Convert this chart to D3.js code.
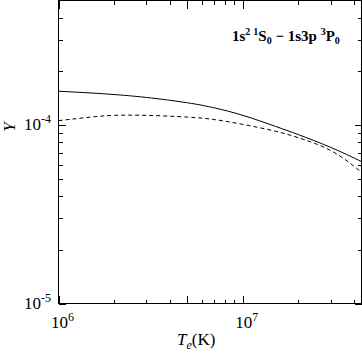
<!DOCTYPE html>
<html>
<head>
<meta charset="utf-8">
<script src="https://cdn.jsdelivr.net/npm/d3@7/dist/d3.min.js"></script>
<style>
  html, body { margin: 0; padding: 0; background: #fff; }
  svg { display: block; font-family: "Liberation Serif", "Times New Roman", serif; }
</style>
</head>
<body>
<div id="chart"></div>
<script>
"use strict";

// electron temperature (K) and effective collision strengths
const temps = [1e6, 1.5e6, 2e6, 3e6, 5e6, 7e6, 1e7, 1.5e7, 2e7, 3e7, 4.4e7];
const upsSolid = [1.55e-4, 1.515e-4, 1.485e-4, 1.43e-4, 1.335e-4, 1.25e-4, 1.135e-4, 9.85e-5, 8.85e-5, 7.5e-5, 6.25e-5];
const upsDashed = [1.06e-4, 1.11e-4, 1.135e-4, 1.135e-4, 1.11e-4, 1.075e-4, 1.01e-4, 9.25e-5, 8.5e-5, 7.2e-5, 5.45e-5];

const xDomain = [1e6, 4.4e7];
const yDomain = [1e-5, 5e-4];
const xMajorTicks = [1e6, 5e6, 1e7];
const xMinorTicks = [2e6, 3e6, 4e6, 6e6, 7e6, 8e6, 9e6, 2e7, 3e7, 4e7];
const yMajorTicks = [1e-5, 1e-4];
const yMinorTicks = [2e-5, 3e-5, 4e-5, 5e-5, 6e-5, 7e-5, 8e-5, 9e-5, 2e-4, 3e-4, 4e-4];
const xTickLabels = [{ value: 1e6, exp: "6" }, { value: 1e7, exp: "7" }];
const yTickLabels = [{ value: 1e-5, exp: "-5" }, { value: 1e-4, exp: "-4" }];

const width = 362, height = 353;
const plot = { left: 58.5, right: 361.5, top: 0.5, bottom: 303.5 };

const svg = d3.select("#chart").append("svg").attr("width", width).attr("height", height);

const x = d3.scaleLog().domain(xDomain).range([plot.left, plot.right]);
const y = d3.scaleLog().domain(yDomain).range([plot.bottom, plot.top]);

function tickAxis(axisFn, scale, values, size) {
  return axisFn(scale).tickValues(values).tickSize(size).tickFormat("");
}

const axes = svg.append("g").attr("shape-rendering", "crispEdges");
const pw = plot.right - plot.left, ph = plot.bottom - plot.top;

// inward ticks on all four sides
axes.append("g").attr("transform", `translate(0,${plot.bottom})`).call(tickAxis(d3.axisBottom, x, xMajorTicks, -8));
axes.append("g").attr("transform", `translate(0,${plot.bottom})`).call(tickAxis(d3.axisBottom, x, xMinorTicks, -4));
axes.append("g").attr("transform", `translate(0,${plot.top})`).call(tickAxis(d3.axisTop, x, xMajorTicks, -8));
axes.append("g").attr("transform", `translate(0,${plot.top})`).call(tickAxis(d3.axisTop, x, xMinorTicks, -4));
axes.append("g").attr("transform", `translate(${plot.left},0)`).call(tickAxis(d3.axisLeft, y, yMajorTicks, -7));
axes.append("g").attr("transform", `translate(${plot.left},0)`).call(tickAxis(d3.axisLeft, y, yMinorTicks, -4));
axes.append("g").attr("transform", `translate(${plot.right},0)`).call(tickAxis(d3.axisRight, y, yMajorTicks, -7));
axes.append("g").attr("transform", `translate(${plot.right},0)`).call(tickAxis(d3.axisRight, y, yMinorTicks, -4));
axes.selectAll(".domain").remove();
axes.selectAll("line").attr("stroke", "#000").attr("stroke-width", 1);

axes.append("rect").attr("x", plot.left).attr("y", plot.top).attr("width", pw).attr("height", ph)
  .attr("fill", "none").attr("stroke", "#000").attr("stroke-width", 1);

// tick labels: 10 with superscript exponent
const xl = svg.append("g").attr("font-size", 17);
xTickLabels.forEach(function (t) {
  const tx = xl.append("text").attr("x", x(t.value) - 7.5).attr("y", 328);
  tx.append("tspan").text("10");
  tx.append("tspan").attr("font-size", 12).attr("dy", -7).text(t.exp);
});
const yl = svg.append("g").attr("font-size", 17);
yTickLabels.forEach(function (t) {
  const tx = yl.append("text").attr("x", 51).attr("y", y(t.value) + 5).attr("text-anchor", "end");
  tx.append("tspan").text("10");
  tx.append("tspan").attr("font-size", 12).attr("dy", -7).text(t.exp);
});

// axis titles
const xt = svg.append("text").attr("x", 177).attr("y", 345).attr("font-size", 17);
xt.append("tspan").attr("font-style", "italic").text("T");
xt.append("tspan").attr("font-style", "italic").attr("font-size", 12).attr("dy", 4).text("e");
xt.append("tspan").attr("dy", -4).text("(K)");

svg.append("text").attr("transform", "translate(15,127) rotate(-90)").attr("text-anchor", "middle")
  .attr("font-size", 17).attr("font-style", "italic").text("\u03A5");

// transition label
const lab = svg.append("text").attr("x", 232).attr("y", 41).attr("font-size", 15).attr("font-weight", "bold");
lab.append("tspan").text("1s");
lab.append("tspan").attr("font-size", 10).attr("dy", -6).text("2");
lab.append("tspan").attr("font-size", 10).attr("dx", 3).text("1");
lab.append("tspan").attr("dy", 6).text("S");
lab.append("tspan").attr("font-size", 10).attr("dy", 3).text("0");
lab.append("tspan").attr("dy", -3).text(" \u2212 1s3p ");
lab.append("tspan").attr("font-size", 10).attr("dy", -6).text("3");
lab.append("tspan").attr("dy", 6).text("P");
lab.append("tspan").attr("font-size", 10).attr("dy", 3).text("0");

// curves
const line = d3.line().x(function (d) { return x(d[0]); }).y(function (d) { return y(d[1]); }).curve(d3.curveNatural);
const curves = svg.append("g").attr("fill", "none").attr("stroke", "#000").attr("stroke-width", 1);
curves.append("path").attr("d", line(d3.zip(temps, upsSolid)));
curves.append("path").attr("stroke-dasharray", "4,3").attr("d", line(d3.zip(temps, upsDashed)));
</script>
</body>
</html>
